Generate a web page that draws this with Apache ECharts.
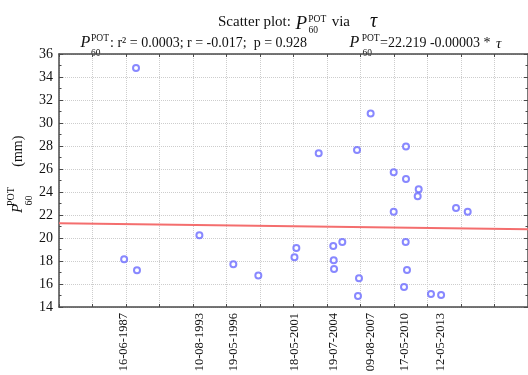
<!DOCTYPE html>
<html><head><meta charset="utf-8">
<script src="https://cdn.jsdelivr.net/npm/echarts@6/dist/echarts.min.js"></script>
<style>html,body{margin:0;padding:0;background:#fff}#c{width:528px;height:375px}</style>
</head><body><div id="c"></div>
<script>
// tau: date serial (days); p60: P60 POT (mm)
const tauValues = [32299, 31944, 32328, 34191, 35204, 35950, 37029, 37085, 37752, 38187,
                   38200, 38210, 38457, 38896, 38955, 38925, 39303, 39991, 39991, 40358,
                   40358, 40349, 40388, 40299, 40737, 40707, 41104, 41406, 41851, 42200];
const p60Values = [34.78, 18.15, 17.2, 20.25, 17.72, 16.73, 18.33, 19.14, 27.37, 19.31,
                   18.07, 17.31, 19.66, 27.66, 16.5, 14.95, 30.82, 25.71, 22.28, 27.95,
                   25.13, 19.66, 17.22, 15.74, 24.23, 23.62, 15.13, 15.04, 22.6, 22.28];
const xTickValues = [31944, 34191, 35204, 37029, 38187, 39303, 40315, 41406];
const xTickLabels = ['16-06-1987', '10-08-1993', '19-05-1996', '18-05-2001',
                     '19-07-2004', '09-08-2007', '17-05-2010', '12-05-2013'];
const fitTau = [30000, 44000];
const fitP60 = [21.28, 20.76];

const FF = '"Liberation Serif", "Times New Roman", serif';
const labelMap = {};
xTickValues.forEach((v, i) => { labelMap[v] = xTickLabels[i]; });

function txt(x, y, text, size, italic, align) {
  return {
    type: 'text', x: x, y: y, silent: true,
    style: {
      text: text, fill: '#111',
      font: (italic ? 'italic ' : '') + size + 'px ' + FF,
      textAlign: align || 'left', textVerticalAlign: 'middle',
      align: align || 'left', verticalAlign: 'middle'
    }
  };
}

const chart = echarts.init(document.getElementById('c'), null, {renderer: 'canvas'});
const axisCol = '#4a4a4a';
const gridCol = '#cdcdcd';
chart.setOption({
  animation: false,
  backgroundColor: '#fff',
  grid: {left: 59, right: 0, top: 54, bottom: 68, containLabel: false},
  xAxis: [{
    type: 'value', position: 'bottom', min: 30000, max: 44000, interval: 1000,
    axisLine: {show: true, lineStyle: {color: axisCol, width: 1.5}},
    axisTick: {show: true, inside: true, length: 3, lineStyle: {color: axisCol}},
    splitLine: {show: true, lineStyle: {color: gridCol, type: 'dotted', width: 1}},
    axisLabel: {
      customValues: xTickValues, rotate: 90, margin: 6,
      fontFamily: FF, fontSize: 12.5, color: '#111',
      formatter: v => labelMap[v] || ''
    }
  }, {
    type: 'value', position: 'top', min: 30000, max: 44000, interval: 1000,
    axisLine: {show: true, lineStyle: {color: axisCol, width: 1.5}},
    axisTick: {show: true, inside: true, length: 3, lineStyle: {color: axisCol}},
    splitLine: {show: false}, axisLabel: {show: false}
  }],
  yAxis: [{
    type: 'value', position: 'left', min: 14, max: 36, interval: 2,
    axisLine: {show: true, lineStyle: {color: axisCol, width: 1.5}},
    axisTick: {show: true, inside: true, length: 4, lineStyle: {color: axisCol}},
    minorTick: {show: true, splitNumber: 2, length: 2.5, lineStyle: {color: axisCol}},
    splitLine: {show: true, lineStyle: {color: gridCol, type: 'dotted', width: 1}},
    axisLabel: {fontFamily: FF, fontSize: 14, color: '#111', margin: 6}
  }, {
    type: 'value', position: 'right', min: 14, max: 36, interval: 2,
    axisLine: {show: true, lineStyle: {color: axisCol, width: 1.5}},
    axisTick: {show: true, inside: true, length: 4, lineStyle: {color: axisCol}},
    minorTick: {show: true, splitNumber: 2, length: 2.5, lineStyle: {color: axisCol}},
    splitLine: {show: false}, axisLabel: {show: false}
  }],
  series: [{
    type: 'line', xAxisIndex: 0, yAxisIndex: 0, z: 2,
    data: fitTau.map((t, i) => [t, fitP60[i]]),
    showSymbol: false, symbol: 'none',
    lineStyle: {color: '#f46e6e', width: 2}
  }, {
    type: 'scatter', xAxisIndex: 0, yAxisIndex: 0, z: 3,
    data: tauValues.map((t, i) => [t, p60Values[i]]),
    symbol: 'emptyCircle', symbolSize: 6,
    itemStyle: {color: '#6a6aff', borderColor: '#6a6aff', borderWidth: 1.3}
  }],
  graphic: [
    // title line 1
    txt(218, 21.6, 'Scatter plot:', 15, false),
    txt(295.5, 24.3, 'P', 19, true),
    txt(308.3, 19.3, 'POT', 9.5, false),
    txt(308.5, 30.1, '60', 9.5, false),
    txt(331.7, 21.6, 'via', 15, false),
    txt(370, 21.5, 'τ', 20, true),
    // title line 2 left
    txt(80.5, 42.9, 'P', 16, true),
    txt(91, 38.5, 'POT', 9.5, false),
    txt(91, 53.5, '60', 9.5, false),
    txt(110, 43.6, ': r² = 0.0003; r = -0.017;  p = 0.928', 14, false),
    // title line 2 right
    txt(349.5, 42.9, 'P', 16, true),
    txt(361.7, 38.5, 'POT', 9.5, false),
    txt(362.5, 53.5, '60', 9.5, false),
    txt(380, 43.6, '=22.219 -0.00003 *', 14, false),
    txt(496, 43.6, 'τ', 15, true),
    // y axis name (rotated)
    {
      type: 'group', x: 18, y: 213, rotation: Math.PI / 2, silent: true,
      children: [
        txt(0, 0, 'P', 15, true),
        txt(7, -6.4, 'POT', 10, false),
        txt(7.5, 11.6, '60', 10, false),
        txt(46.3, 0, '(mm)', 14, false)
      ]
    }
  ]
});
</script></body></html>
